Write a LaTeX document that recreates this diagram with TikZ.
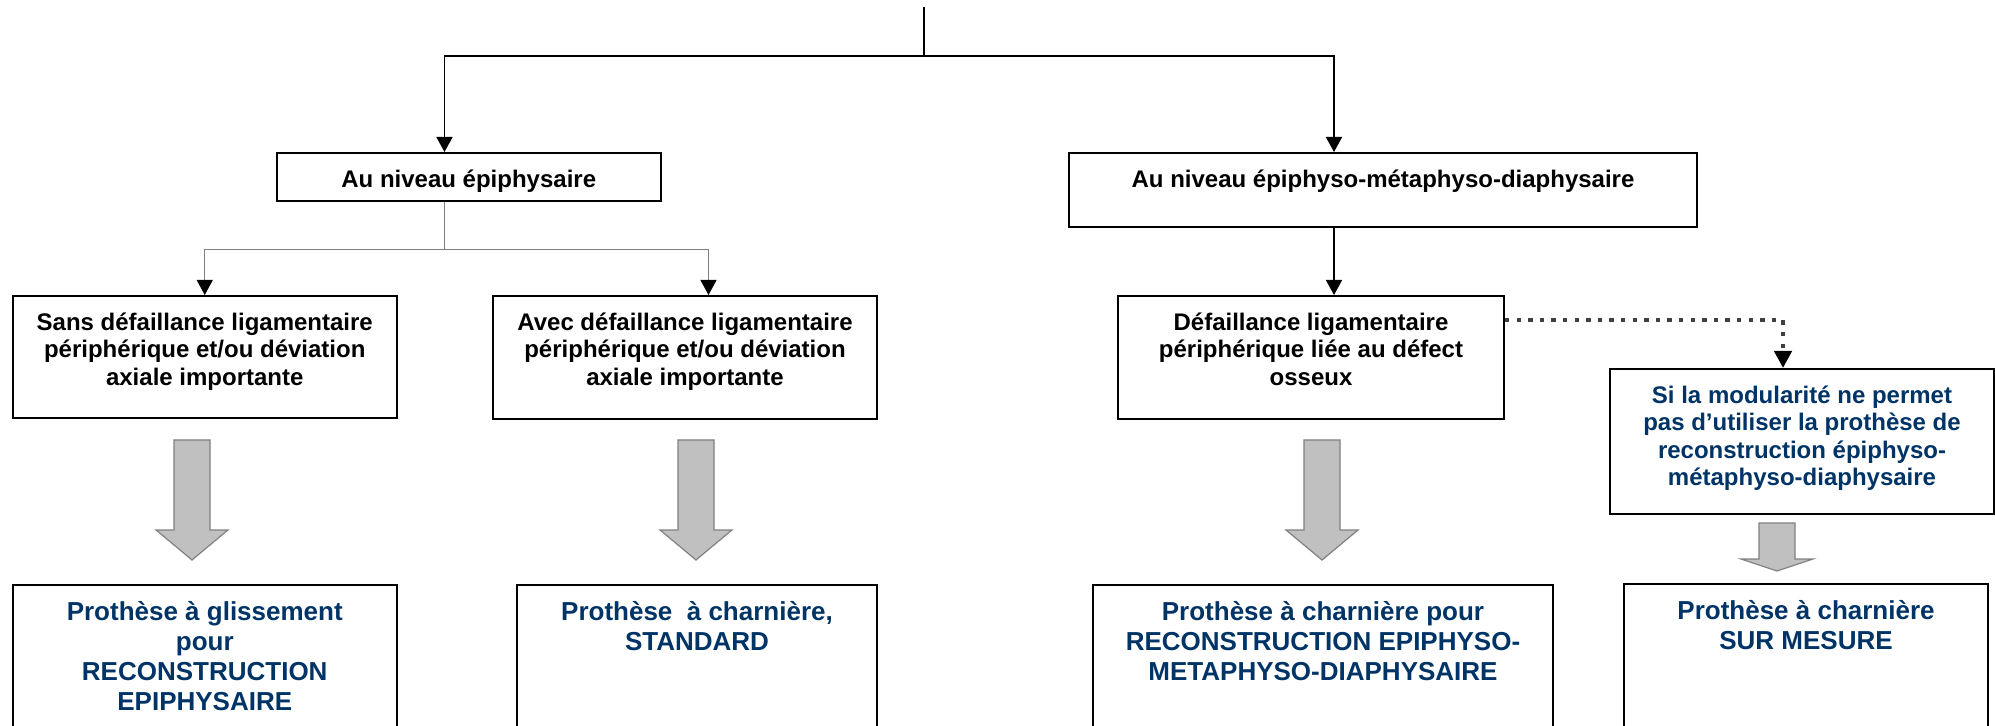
\documentclass[tikz,border=0pt]{standalone}
\usepackage{fontspec}
\setmainfont{Liberation Sans}
\usetikzlibrary{calc, positioning, arrows.meta}
\definecolor{navy}{RGB}{0,51,102}
\definecolor{arrowgrey}{RGB}{192,192,192}

\begin{document}
\begin{tikzpicture}[x=0.5pt, y=-0.5pt,
		box/.style={draw, line width=1pt, inner sep=0pt, anchor=north west},
		lbl/.style={font=\fontsize{12}{13.75}\selectfont\bfseries, align=center, inner sep=0pt},
		res/.style={font=\fontsize{13}{15}\selectfont\bfseries, align=center, inner sep=0pt, text=navy},
		conn/.style={line width=0.85pt},
		thinconn/.style={line width=0.5pt, draw=gray},
		headarrow/.style={-{Triangle[length=7.5pt, width=8pt, color=black]}},
		dotconn/.style={line width=2.2pt, draw=black!75, dash pattern=on 2.2pt off 3.6pt},
		bigarrow/.style={fill=arrowgrey, draw=gray, line width=0.6pt}]
			\useasboundingbox (0,0) rectangle (1995,726);
			%Boxes of the first level
			\node [box, minimum width=192.25pt, minimum height=24pt] (epi) at (275.5,152) {};
			\node [box, minimum width=314pt, minimum height=37pt] (emd) at (1068,152) {};
			\node [lbl, below=8.75pt] (epiText) at (epi.north) {Au niveau épiphysaire};
			\node [lbl, below=8.75pt] (emdText) at (emd.north) {Au niveau épiphyso-métaphyso-diaphysaire};
			%Boxes of the second level
			\node [box, minimum width=192.25pt, minimum height=61pt] (sans) at (11.5,295) {};
			\node [box, minimum width=192pt, minimum height=61.5pt] (avec) at (492,295) {};
			\node [box, minimum width=193pt, minimum height=61.5pt] (defect) at (1117,295) {};
			\node [box, minimum width=192pt, minimum height=72.5pt] (modul) at (1609,368) {};
			\node [lbl, below=8.75pt] (sansText) at (sans.north) {Sans défaillance ligamentaire\\périphérique et/ou déviation\\axiale importante};
			\node [lbl, below=8.75pt] (avecText) at (avec.north) {Avec défaillance ligamentaire\\périphérique et/ou déviation\\axiale importante};
			\node [lbl, below=8.75pt] (defectText) at (defect.north) {Défaillance ligamentaire\\périphérique liée au défect\\osseux};
			\node [lbl, text=navy, below=8.5pt] (modulText) at (modul.north) {Si la modularité ne permet\\pas d’utiliser la prothèse de\\reconstruction épiphyso-\\métaphyso-diaphysaire};
			%Result boxes at the bottom
			\node [box, minimum width=192.25pt, minimum height=100pt] (glis) at (11.5,584) {};
			\node [box, minimum width=180pt, minimum height=100pt] (standard) at (516,584) {};
			\node [box, minimum width=230pt, minimum height=100pt] (recon) at (1092,584) {};
			\node [box, minimum width=182pt, minimum height=100pt] (mesure) at (1623,583) {};
			\node [res, below=8.5pt] (glisText) at (glis.north) {Prothèse à glissement\\pour\\RECONSTRUCTION\\EPIPHYSAIRE};
			\node [res, below=8.5pt] (standardText) at (standard.north) {Prothèse\ \ à charnière,\\STANDARD};
			\node [res, below=8.5pt] (reconText) at (recon.north) {Prothèse à charnière pour\\RECONSTRUCTION EPIPHYSO-\\METAPHYSO-DIAPHYSAIRE};
			\node [res, below=8.5pt] (mesureText) at (mesure.north) {Prothèse à charnière\\SUR MESURE};
			%Connectors from the top
			\coordinate (root) at (924,7);
			\coordinate (fork) at (924,56);
			\coordinate (epiIn) at ([xshift=84.5pt]epi.north west);
			\coordinate (emdIn) at ([xshift=133pt]emd.north west);
			\draw [conn] (root) -- (fork);
			\draw [conn, headarrow] (fork) -| (epiIn);
			\draw [conn, headarrow] (fork) -| (emdIn);
			%Connectors below the epiphysis box
			\coordinate (epiOut) at ([xshift=84.5pt]epi.south west);
			\coordinate (epiFork) at ($(epiOut)+(0,48)$);
			\coordinate (avecIn) at ([xshift=108.25pt]avec.north west);
			\draw [thinconn] (epiOut) -- (epiFork);
			\draw [thinconn, headarrow] (epiFork) -| (sans.north);
			\draw [thinconn, headarrow] (epiFork) -| (avecIn);
			%Connectors on the right
			\coordinate (emdOut) at ([xshift=133pt]emd.south west);
			\coordinate (defectIn) at ([xshift=108.5pt]defect.north west);
			\draw [conn, headarrow] (emdOut) -- (defectIn);
			\coordinate (defectOut) at ([yshift=-12.5pt]defect.north east);
			\coordinate (modulIn) at ([xshift=87pt]modul.north west);
			\draw [dotconn, -{Triangle[length=8.5pt, width=8.5pt, color=black]}] (defectOut) -| (modulIn);
			%Grey block arrows
			\foreach \cx in {192,696,1322} {
				\draw [bigarrow] (\cx-18,440) -- (\cx+18,440) -- (\cx+18,530) -- (\cx+36,530) -- (\cx,560) -- (\cx-36,530) -- (\cx-18,530) -- cycle;
			}
			\draw [bigarrow] (1759,523) -- (1795,523) -- (1795,559) -- (1813,559) -- (1777,571) -- (1741,559) -- (1759,559) -- cycle;
\end{tikzpicture}
\end{document}
